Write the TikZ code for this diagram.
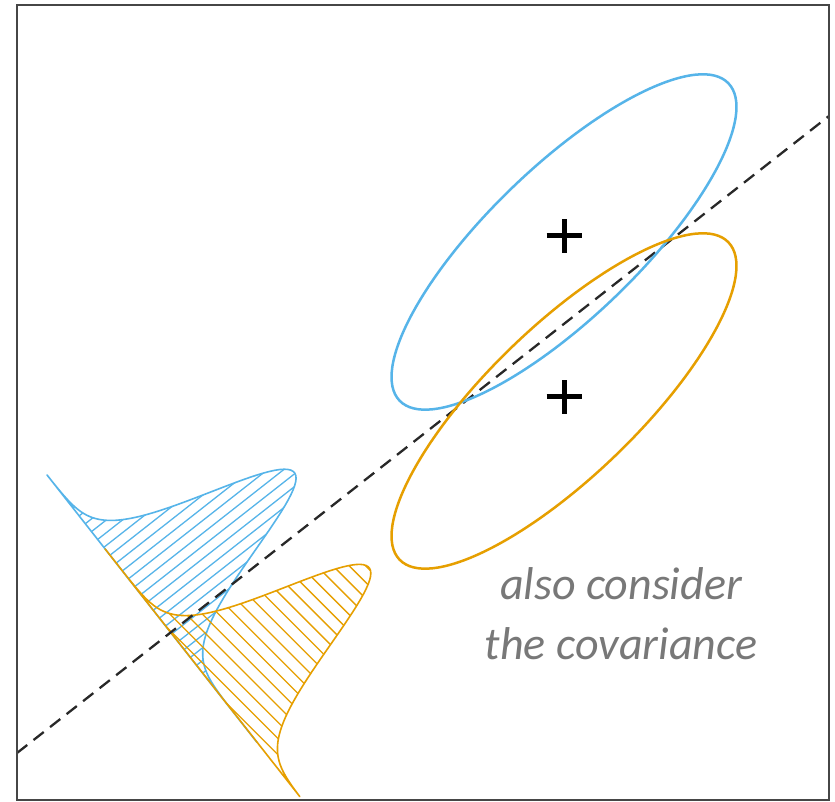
\documentclass[tikz,border=0pt]{standalone}
\usepackage{fontspec}
\newfontfamily\calibfont{Carlito}
\definecolor{skyblue}{RGB}{86,180,233}
\definecolor{okorange}{RGB}{230,159,0}
\definecolor{framegray}{RGB}{70,70,70}
\definecolor{textgray}{RGB}{120,120,120}
\definecolor{dashgray}{RGB}{40,40,40}
\begin{document}
\begin{tikzpicture}[x=1pt,y=1pt,
  framest/.style={draw=framegray, line width=2pt},
  divider/.style={draw=dashgray, line width=2.3pt, dash pattern=on 13pt off 8pt},
  ellblue/.style={draw=skyblue, line width=2.5pt},
  ellorange/.style={draw=okorange, line width=2.5pt},
  curveblue/.style={draw=skyblue, line width=1.6pt, line join=round},
  curveorange/.style={draw=okorange, line width=1.6pt, line join=round},
  hatchblue/.style={draw=skyblue, line width=1.3pt},
  hatchorange/.style={draw=okorange, line width=1.3pt},
  plusbar/.style={draw=black, line width=5pt},
  note/.style={font=\calibfont\itshape\fontsize{46}{56}\selectfont, text=textgray, inner sep=0pt}
]
\useasboundingbox (0,0) rectangle (835,802);
\fill[white] (0,0) rectangle (835,802);

% projected distributions (local frame: x along baseline, y along the dashed direction)
\begin{scope}[shift={(47,327)}, rotate=-51.85]
  % blue
  \begin{scope}
    \clip plot[domain=0:340, samples=140] (\x, {196*exp(-0.5*((\x-151)/36.3)*((\x-151)/36.3))}) -- cycle;
    \foreach \k in {0,...,36} \draw[hatchblue] (\k*10+2,-5) -- (\k*10+2,215);
  \end{scope}
  \draw[curveblue] plot[domain=0:340, samples=140] (\x, {196*exp(-0.5*((\x-151)/36.3)*((\x-151)/36.3))}) -- cycle;
  % orange
  \begin{scope}
    \clip plot[domain=94:409, samples=140] (\x, {196*exp(-0.5*((\x-272)/36.3)*((\x-272)/36.3))}) -- cycle;
    \foreach \k in {-28,...,28} \draw[hatchorange, rotate=6.85] (-100,\k*11.5) -- (600,\k*11.5);
  \end{scope}
  \draw[curveorange] plot[domain=94:409, samples=140] (\x, {196*exp(-0.5*((\x-272)/36.3)*((\x-272)/36.3))}) -- cycle;
\end{scope}

% dashed discriminant line
\coordinate (dA) at (17,49);
\coordinate (dB) at (829,686);
\draw[divider] (dA) -- (dB);

% class ellipses
\coordinate (cb) at (564,560);
\coordinate (co) at (564,401);
\draw[ellblue, rotate around={44:(cb)}] (cb) ellipse (228.5 and 75);
\draw[ellorange, rotate around={44:(co)}] (co) ellipse (228.5 and 75);

% means
\coordinate (m1) at (564,566);
\coordinate (m2) at (564,405);
\foreach \m in {m1,m2} {
  \draw[plusbar] ([xshift=-17.5pt]\m) -- ([xshift=17.5pt]\m);
  \draw[plusbar] ([yshift=-17pt]\m) -- ([yshift=17pt]\m);
}

% note
\node[note, anchor=base] (t1) at (621,202) {also consider};
\node[note, anchor=base] (t2) at (621,142) {the covariance};

% frame
\draw[framest] (17,2) rectangle (829,797);
\end{tikzpicture}
\end{document}
